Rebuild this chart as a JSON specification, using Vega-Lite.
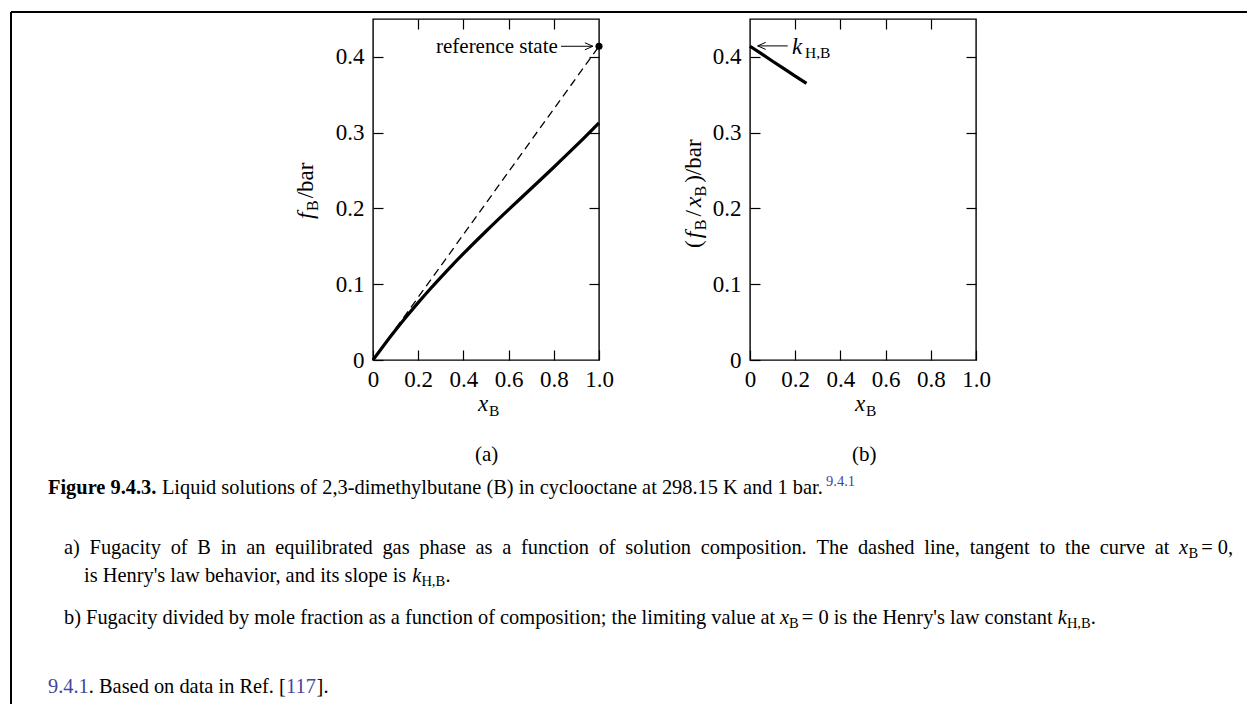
{
  "$schema": "https://vega.github.io/schema/vega-lite/v6.json",
  "background": "white",
  "padding": {"left": 9, "top": 10, "right": 0, "bottom": 0},
  "spacing": 151,
  "bounds": "flush",
  "config": {
    "view": {"stroke": "black", "strokeWidth": 1.4},
    "axis": {"labelFont": "Liberation Serif", "labelFontSize": 23, "labelColor": "black", "tickColor": "black", "tickWidth": 1.2, "domain": false, "grid": false}
  },
  "datasets": {
    "curveA": [
      {"xB": 0, "fB": 0}, {"xB": 0.05, "fB": 0.0202}, {"xB": 0.1, "fB": 0.0395}, {"xB": 0.15, "fB": 0.058},
      {"xB": 0.2, "fB": 0.0757}, {"xB": 0.25, "fB": 0.0927}, {"xB": 0.3, "fB": 0.1091}, {"xB": 0.35, "fB": 0.125},
      {"xB": 0.4, "fB": 0.1403}, {"xB": 0.5, "fB": 0.1699}, {"xB": 0.6, "fB": 0.1984}, {"xB": 0.7, "fB": 0.2263},
      {"xB": 0.8, "fB": 0.2544}, {"xB": 0.9, "fB": 0.2831}, {"xB": 1.0, "fB": 0.313}
    ],
    "tangent": [{"xB": 0, "fB": 0}, {"xB": 1, "fB": 0.414}],
    "refstate": [{"xB": 1, "fB": 0.414}],
    "arrowA": [{"xB": 0.832, "xB2": 0.973, "fB": 0.414}],
    "curveB": [
      {"xB": 0, "ratio": 0.414}, {"xB": 0.05, "ratio": 0.4042}, {"xB": 0.1, "ratio": 0.3943},
      {"xB": 0.15, "ratio": 0.3845}, {"xB": 0.2, "ratio": 0.3747}, {"xB": 0.25, "ratio": 0.365}
    ],
    "arrowB": [{"xB": 0.034, "xB2": 0.167, "ratio": 0.4145}],
    "frame": [
      {"px": 10, "py": 11, "px2": 1246, "py2": 11},
      {"px": 10, "py": 11, "px2": 10, "py2": 703}
    ],
    "annA": [
      {"px": 47, "py": 493, "text": "Figure 9.4.3.", "role": "capb"},
      {"px": 160.9, "py": 493, "text": "Liquid solutions of 2,3-dimethylbutane (B) in cyclooctane at 298.15 K and 1 bar.", "role": "cap"},
      {"px": 825, "py": 485, "text": "9.4.1", "role": "capsup"},
      {"px": 63, "py": 553, "text": "a)", "role": "cap"},
      {"px": 88.56, "py": 553, "text": "Fugacity", "role": "cap"},
      {"px": 169.67, "py": 553, "text": "of", "role": "cap"},
      {"px": 196.37, "py": 553, "text": "B", "role": "cap"},
      {"px": 219.69, "py": 553, "text": "in", "role": "cap"},
      {"px": 245.27, "py": 553, "text": "an", "role": "cap"},
      {"px": 274.24, "py": 553, "text": "equilibrated", "role": "cap"},
      {"px": 381.4, "py": 553, "text": "gas", "role": "cap"},
      {"px": 418.3, "py": 553, "text": "phase", "role": "cap"},
      {"px": 474.46, "py": 553, "text": "as", "role": "cap"},
      {"px": 501.16, "py": 553, "text": "a", "role": "cap"},
      {"px": 519.93, "py": 553, "text": "function", "role": "cap"},
      {"px": 597.63, "py": 553, "text": "of", "role": "cap"},
      {"px": 624.33, "py": 553, "text": "solution", "role": "cap"},
      {"px": 699.79, "py": 553, "text": "composition.", "role": "cap"},
      {"px": 815.48, "py": 553, "text": "The", "role": "cap"},
      {"px": 856.91, "py": 553, "text": "dashed", "role": "cap"},
      {"px": 923.27, "py": 553, "text": "line,", "role": "cap"},
      {"px": 968.68, "py": 553, "text": "tangent", "role": "cap"},
      {"px": 1038.45, "py": 553, "text": "to", "role": "cap"},
      {"px": 1064.03, "py": 553, "text": "the", "role": "cap"},
      {"px": 1098.67, "py": 553, "text": "curve", "role": "cap"},
      {"px": 1153.69, "py": 553, "text": "at", "role": "cap"},
      {"px": 1178.1, "py": 553, "text": "x", "role": "capi"},
      {"px": 1187.5, "py": 557, "text": "B", "role": "capsub"},
      {"px": 1200.2, "py": 553, "text": "= 0,", "role": "cap"},
      {"px": 83, "py": 581, "text": "is Henry's law behavior, and its slope is", "role": "cap"},
      {"px": 411.3, "py": 581, "text": "k", "role": "capi"},
      {"px": 420.4, "py": 585, "text": "H,B", "role": "capsub"},
      {"px": 444.5, "py": 581, "text": ".", "role": "cap"},
      {"px": 63, "py": 623, "text": "b) Fugacity divided by mole fraction as a function of composition; the limiting value at", "role": "cap"},
      {"px": 779, "py": 623, "text": "x", "role": "capi"},
      {"px": 788.1, "py": 627, "text": "B", "role": "capsub"},
      {"px": 800.8, "py": 623, "text": "= 0 is the Henry's law constant", "role": "cap"},
      {"px": 1056.8, "py": 623, "text": "k", "role": "capi"},
      {"px": 1065.9, "py": 627, "text": "H,B", "role": "capsub"},
      {"px": 1089.7, "py": 623, "text": ".", "role": "cap"},
      {"px": 47, "py": 692, "text": "9.4.1", "role": "caplink"},
      {"px": 87.8, "py": 692, "text": ". Based on data in Ref. [", "role": "cap"},
      {"px": 285, "py": 692, "text": "117", "role": "caplink"},
      {"px": 315.6, "py": 692, "text": "].", "role": "cap"},
      {"px": 435, "py": 52, "text": "reference state", "role": "fig"},
      {"px": 474, "py": 460, "text": "(a)", "role": "fig"},
      {"px": 477, "py": 410, "text": "x", "role": "figi"},
      {"px": 488, "py": 415, "text": "B", "role": "figsub"},
      {"px": 312, "py": 218, "text": "f", "role": "yti"},
      {"px": 316.5, "py": 210, "text": "B", "role": "ytsub"},
      {"px": 312, "py": 197.3, "text": "/bar", "role": "yt"}
    ],
    "annB": [
      {"px": 791, "py": 53, "text": "k", "role": "figi"},
      {"px": 804, "py": 57, "text": "H,B", "role": "figsub"},
      {"px": 851, "py": 460, "text": "(b)", "role": "fig"},
      {"px": 854, "py": 410, "text": "x", "role": "figi"},
      {"px": 865, "py": 415, "text": "B", "role": "figsub"},
      {"px": 700, "py": 247, "text": "(", "role": "yt"},
      {"px": 700, "py": 237.3, "text": "f", "role": "yti"},
      {"px": 704.5, "py": 229.3, "text": "B", "role": "ytsub"},
      {"px": 700, "py": 215.6, "text": "/", "role": "yt"},
      {"px": 700, "py": 206.2, "text": "x", "role": "yti"},
      {"px": 704.5, "py": 195.5, "text": "B", "role": "ytsub"},
      {"px": 700, "py": 181.8, "text": ")/bar", "role": "yt"}
    ]
  },
  "hconcat": [
    {
      "width": 226,
      "height": 341,
      "resolve": {"scale": {"x": "independent", "y": "independent"}},
      "layer": [
        {
          "data": {"name": "curveA"},
          "mark": {"type": "line", "color": "black", "strokeWidth": 3.2, "interpolate": "monotone"},
          "encoding": {
            "x": {"field": "xB", "type": "quantitative", "scale": {"domain": [0, 1], "nice": false, "zero": false},
              "axis": {"orient": "bottom", "values": [0, 0.2, 0.4, 0.6, 0.8, 1], "labelExpr": "datum.value == 0 ? '0' : format(datum.value, '.1f')", "tickSize": -10, "labelPadding": 18, "title": null, "labelFlush": false, "labelOverlap": false}},
            "y": {"field": "fB", "type": "quantitative", "scale": {"domain": [0, 0.45], "nice": false, "zero": false},
              "axis": {"orient": "left", "values": [0, 0.1, 0.2, 0.3, 0.4], "labelExpr": "datum.value == 0 ? '0' : format(datum.value, '.1f')", "tickSize": -10, "labelPadding": 19, "title": null, "labelFlush": false, "labelOverlap": false}}
          }
        },
        {
          "data": {"name": "tangent"},
          "mark": {"type": "line", "color": "black", "strokeWidth": 1.3, "strokeDash": [8, 5]},
          "encoding": {
            "x": {"field": "xB", "type": "quantitative", "scale": {"domain": [0, 1], "nice": false, "zero": false},
              "axis": {"orient": "top", "values": [0.2, 0.4, 0.6, 0.8], "labels": false, "tickSize": -10, "title": null}},
            "y": {"field": "fB", "type": "quantitative", "scale": {"domain": [0, 0.45], "nice": false, "zero": false},
              "axis": {"orient": "right", "values": [0.1, 0.2, 0.3, 0.4], "labels": false, "tickSize": -10, "title": null}}
          }
        },
        {
          "data": {"name": "refstate"},
          "mark": {"type": "point", "filled": true, "color": "black", "size": 50, "opacity": 1},
          "encoding": {
            "x": {"field": "xB", "type": "quantitative", "scale": {"domain": [0, 1], "nice": false, "zero": false}, "axis": null},
            "y": {"field": "fB", "type": "quantitative", "scale": {"domain": [0, 0.45], "nice": false, "zero": false}, "axis": null}
          }
        },
        {
          "data": {"name": "arrowA"},
          "mark": {"type": "rule", "color": "black", "strokeWidth": 1},
          "encoding": {
            "x": {"field": "xB", "type": "quantitative", "scale": {"domain": [0, 1], "nice": false, "zero": false}, "axis": null},
            "x2": {"field": "xB2"},
            "y": {"field": "fB", "type": "quantitative", "scale": {"domain": [0, 0.45], "nice": false, "zero": false}, "axis": null}
          }
        },
        {
          "data": {"name": "arrowA"},
          "mark": {"type": "point", "shape": "M -1.6 -0.7 L 0 0 L -1.6 0.7", "filled": false, "stroke": "black", "strokeWidth": 1, "size": 100, "opacity": 1},
          "encoding": {
            "x": {"field": "xB2", "type": "quantitative", "scale": {"domain": [0, 1], "nice": false, "zero": false}, "axis": null},
            "y": {"field": "fB", "type": "quantitative", "scale": {"domain": [0, 0.45], "nice": false, "zero": false}, "axis": null}
          }
        },
        {
          "data": {"name": "frame"},
          "mark": {"type": "rule", "color": "black", "strokeWidth": 2},
          "encoding": {
            "x": {"field": "px", "type": "quantitative", "scale": {"domain": [372, 598], "nice": false, "zero": false}, "axis": null},
            "x2": {"field": "px2"},
            "y": {"field": "py", "type": "quantitative", "scale": {"domain": [18, 359], "reverse": true, "nice": false, "zero": false}, "axis": null},
            "y2": {"field": "py2"}
          }
        },
        {
          "data": {"name": "annA"},
          "transform": [{"filter": "datum.role == 'cap'"}],
          "mark": {"type": "text", "align": "left", "baseline": "alphabetic", "font": "Liberation Serif", "fontSize": 20.4, "color": "black"},
          "encoding": {
            "x": {"field": "px", "type": "quantitative", "scale": {"domain": [372, 598], "nice": false, "zero": false}, "axis": null},
            "y": {"field": "py", "type": "quantitative", "scale": {"domain": [18, 359], "reverse": true, "nice": false, "zero": false}, "axis": null},
            "text": {"field": "text"}
          }
        },
        {
          "data": {"name": "annA"},
          "transform": [{"filter": "datum.role == 'capb'"}],
          "mark": {"type": "text", "align": "left", "baseline": "alphabetic", "font": "Liberation Serif", "fontSize": 20.4, "fontWeight": "bold", "color": "black"},
          "encoding": {
            "x": {"field": "px", "type": "quantitative", "scale": {"domain": [372, 598], "nice": false, "zero": false}, "axis": null},
            "y": {"field": "py", "type": "quantitative", "scale": {"domain": [18, 359], "reverse": true, "nice": false, "zero": false}, "axis": null},
            "text": {"field": "text"}
          }
        },
        {
          "data": {"name": "annA"},
          "transform": [{"filter": "datum.role == 'capi'"}],
          "mark": {"type": "text", "align": "left", "baseline": "alphabetic", "font": "Liberation Serif", "fontSize": 20.4, "fontStyle": "italic", "color": "black"},
          "encoding": {
            "x": {"field": "px", "type": "quantitative", "scale": {"domain": [372, 598], "nice": false, "zero": false}, "axis": null},
            "y": {"field": "py", "type": "quantitative", "scale": {"domain": [18, 359], "reverse": true, "nice": false, "zero": false}, "axis": null},
            "text": {"field": "text"}
          }
        },
        {
          "data": {"name": "annA"},
          "transform": [{"filter": "datum.role == 'capsub'"}],
          "mark": {"type": "text", "align": "left", "baseline": "alphabetic", "font": "Liberation Serif", "fontSize": 14.5, "color": "black"},
          "encoding": {
            "x": {"field": "px", "type": "quantitative", "scale": {"domain": [372, 598], "nice": false, "zero": false}, "axis": null},
            "y": {"field": "py", "type": "quantitative", "scale": {"domain": [18, 359], "reverse": true, "nice": false, "zero": false}, "axis": null},
            "text": {"field": "text"}
          }
        },
        {
          "data": {"name": "annA"},
          "transform": [{"filter": "datum.role == 'caplink'"}],
          "mark": {"type": "text", "align": "left", "baseline": "alphabetic", "font": "Liberation Serif", "fontSize": 20.4, "color": "#45459a"},
          "encoding": {
            "x": {"field": "px", "type": "quantitative", "scale": {"domain": [372, 598], "nice": false, "zero": false}, "axis": null},
            "y": {"field": "py", "type": "quantitative", "scale": {"domain": [18, 359], "reverse": true, "nice": false, "zero": false}, "axis": null},
            "text": {"field": "text"}
          }
        },
        {
          "data": {"name": "annA"},
          "transform": [{"filter": "datum.role == 'capsup'"}],
          "mark": {"type": "text", "align": "left", "baseline": "alphabetic", "font": "Liberation Serif", "fontSize": 14.5, "color": "#45459a"},
          "encoding": {
            "x": {"field": "px", "type": "quantitative", "scale": {"domain": [372, 598], "nice": false, "zero": false}, "axis": null},
            "y": {"field": "py", "type": "quantitative", "scale": {"domain": [18, 359], "reverse": true, "nice": false, "zero": false}, "axis": null},
            "text": {"field": "text"}
          }
        },
        {
          "data": {"name": "annA"},
          "transform": [{"filter": "datum.role == 'fig'"}],
          "mark": {"type": "text", "align": "left", "baseline": "alphabetic", "font": "Liberation Serif", "fontSize": 21, "color": "black"},
          "encoding": {
            "x": {"field": "px", "type": "quantitative", "scale": {"domain": [372, 598], "nice": false, "zero": false}, "axis": null},
            "y": {"field": "py", "type": "quantitative", "scale": {"domain": [18, 359], "reverse": true, "nice": false, "zero": false}, "axis": null},
            "text": {"field": "text"}
          }
        },
        {
          "data": {"name": "annA"},
          "transform": [{"filter": "datum.role == 'figi'"}],
          "mark": {"type": "text", "align": "left", "baseline": "alphabetic", "font": "Liberation Serif", "fontSize": 23, "fontStyle": "italic", "color": "black"},
          "encoding": {
            "x": {"field": "px", "type": "quantitative", "scale": {"domain": [372, 598], "nice": false, "zero": false}, "axis": null},
            "y": {"field": "py", "type": "quantitative", "scale": {"domain": [18, 359], "reverse": true, "nice": false, "zero": false}, "axis": null},
            "text": {"field": "text"}
          }
        },
        {
          "data": {"name": "annA"},
          "transform": [{"filter": "datum.role == 'figsub'"}],
          "mark": {"type": "text", "align": "left", "baseline": "alphabetic", "font": "Liberation Serif", "fontSize": 15.5, "color": "black"},
          "encoding": {
            "x": {"field": "px", "type": "quantitative", "scale": {"domain": [372, 598], "nice": false, "zero": false}, "axis": null},
            "y": {"field": "py", "type": "quantitative", "scale": {"domain": [18, 359], "reverse": true, "nice": false, "zero": false}, "axis": null},
            "text": {"field": "text"}
          }
        },
        {
          "data": {"name": "annA"},
          "transform": [{"filter": "datum.role == 'yt'"}],
          "mark": {"type": "text", "align": "left", "baseline": "alphabetic", "angle": 270, "font": "Liberation Serif", "fontSize": 23, "color": "black"},
          "encoding": {
            "x": {"field": "px", "type": "quantitative", "scale": {"domain": [372, 598], "nice": false, "zero": false}, "axis": null},
            "y": {"field": "py", "type": "quantitative", "scale": {"domain": [18, 359], "reverse": true, "nice": false, "zero": false}, "axis": null},
            "text": {"field": "text"}
          }
        },
        {
          "data": {"name": "annA"},
          "transform": [{"filter": "datum.role == 'yti'"}],
          "mark": {"type": "text", "align": "left", "baseline": "alphabetic", "angle": 270, "font": "Liberation Serif", "fontSize": 24, "fontStyle": "italic", "color": "black"},
          "encoding": {
            "x": {"field": "px", "type": "quantitative", "scale": {"domain": [372, 598], "nice": false, "zero": false}, "axis": null},
            "y": {"field": "py", "type": "quantitative", "scale": {"domain": [18, 359], "reverse": true, "nice": false, "zero": false}, "axis": null},
            "text": {"field": "text"}
          }
        },
        {
          "data": {"name": "annA"},
          "transform": [{"filter": "datum.role == 'ytsub'"}],
          "mark": {"type": "text", "align": "left", "baseline": "alphabetic", "angle": 270, "font": "Liberation Serif", "fontSize": 16, "color": "black"},
          "encoding": {
            "x": {"field": "px", "type": "quantitative", "scale": {"domain": [372, 598], "nice": false, "zero": false}, "axis": null},
            "y": {"field": "py", "type": "quantitative", "scale": {"domain": [18, 359], "reverse": true, "nice": false, "zero": false}, "axis": null},
            "text": {"field": "text"}
          }
        }
      ]
    },
    {
      "width": 226,
      "height": 341,
      "resolve": {"scale": {"x": "independent", "y": "independent"}},
      "layer": [
        {
          "data": {"name": "curveB"},
          "mark": {"type": "line", "color": "black", "strokeWidth": 3.2},
          "encoding": {
            "x": {"field": "xB", "type": "quantitative", "scale": {"domain": [0, 1], "nice": false, "zero": false},
              "axis": {"orient": "bottom", "values": [0, 0.2, 0.4, 0.6, 0.8, 1], "labelExpr": "datum.value == 0 ? '0' : format(datum.value, '.1f')", "tickSize": -10, "labelPadding": 18, "title": null, "labelFlush": false, "labelOverlap": false}},
            "y": {"field": "ratio", "type": "quantitative", "scale": {"domain": [0, 0.45], "nice": false, "zero": false},
              "axis": {"orient": "left", "values": [0, 0.1, 0.2, 0.3, 0.4], "labelExpr": "datum.value == 0 ? '0' : format(datum.value, '.1f')", "tickSize": -10, "labelPadding": 19, "title": null, "labelFlush": false, "labelOverlap": false}}
          }
        },
        {
          "data": {"name": "curveB"},
          "mark": {"type": "line", "color": "black", "strokeOpacity": 0},
          "encoding": {
            "x": {"field": "xB", "type": "quantitative", "scale": {"domain": [0, 1], "nice": false, "zero": false},
              "axis": {"orient": "top", "values": [0.2, 0.4, 0.6, 0.8], "labels": false, "tickSize": -10, "title": null}},
            "y": {"field": "ratio", "type": "quantitative", "scale": {"domain": [0, 0.45], "nice": false, "zero": false},
              "axis": {"orient": "right", "values": [0.1, 0.2, 0.3, 0.4], "labels": false, "tickSize": -10, "title": null}}
          }
        },
        {
          "data": {"name": "arrowB"},
          "mark": {"type": "rule", "color": "black", "strokeWidth": 1},
          "encoding": {
            "x": {"field": "xB", "type": "quantitative", "scale": {"domain": [0, 1], "nice": false, "zero": false}, "axis": null},
            "x2": {"field": "xB2"},
            "y": {"field": "ratio", "type": "quantitative", "scale": {"domain": [0, 0.45], "nice": false, "zero": false}, "axis": null}
          }
        },
        {
          "data": {"name": "arrowB"},
          "mark": {"type": "point", "shape": "M 1.6 -0.7 L 0 0 L 1.6 0.7", "filled": false, "stroke": "black", "strokeWidth": 1, "size": 100, "opacity": 1},
          "encoding": {
            "x": {"field": "xB", "type": "quantitative", "scale": {"domain": [0, 1], "nice": false, "zero": false}, "axis": null},
            "y": {"field": "ratio", "type": "quantitative", "scale": {"domain": [0, 0.45], "nice": false, "zero": false}, "axis": null}
          }
        },
        {
          "data": {"name": "annB"},
          "transform": [{"filter": "datum.role == 'fig'"}],
          "mark": {"type": "text", "align": "left", "baseline": "alphabetic", "font": "Liberation Serif", "fontSize": 21, "color": "black"},
          "encoding": {
            "x": {"field": "px", "type": "quantitative", "scale": {"domain": [749, 975], "nice": false, "zero": false}, "axis": null},
            "y": {"field": "py", "type": "quantitative", "scale": {"domain": [18, 359], "reverse": true, "nice": false, "zero": false}, "axis": null},
            "text": {"field": "text"}
          }
        },
        {
          "data": {"name": "annB"},
          "transform": [{"filter": "datum.role == 'figi'"}],
          "mark": {"type": "text", "align": "left", "baseline": "alphabetic", "font": "Liberation Serif", "fontSize": 23, "fontStyle": "italic", "color": "black"},
          "encoding": {
            "x": {"field": "px", "type": "quantitative", "scale": {"domain": [749, 975], "nice": false, "zero": false}, "axis": null},
            "y": {"field": "py", "type": "quantitative", "scale": {"domain": [18, 359], "reverse": true, "nice": false, "zero": false}, "axis": null},
            "text": {"field": "text"}
          }
        },
        {
          "data": {"name": "annB"},
          "transform": [{"filter": "datum.role == 'figsub'"}],
          "mark": {"type": "text", "align": "left", "baseline": "alphabetic", "font": "Liberation Serif", "fontSize": 15.5, "color": "black"},
          "encoding": {
            "x": {"field": "px", "type": "quantitative", "scale": {"domain": [749, 975], "nice": false, "zero": false}, "axis": null},
            "y": {"field": "py", "type": "quantitative", "scale": {"domain": [18, 359], "reverse": true, "nice": false, "zero": false}, "axis": null},
            "text": {"field": "text"}
          }
        },
        {
          "data": {"name": "annB"},
          "transform": [{"filter": "datum.role == 'yt'"}],
          "mark": {"type": "text", "align": "left", "baseline": "alphabetic", "angle": 270, "font": "Liberation Serif", "fontSize": 23, "color": "black"},
          "encoding": {
            "x": {"field": "px", "type": "quantitative", "scale": {"domain": [749, 975], "nice": false, "zero": false}, "axis": null},
            "y": {"field": "py", "type": "quantitative", "scale": {"domain": [18, 359], "reverse": true, "nice": false, "zero": false}, "axis": null},
            "text": {"field": "text"}
          }
        },
        {
          "data": {"name": "annB"},
          "transform": [{"filter": "datum.role == 'yti'"}],
          "mark": {"type": "text", "align": "left", "baseline": "alphabetic", "angle": 270, "font": "Liberation Serif", "fontSize": 24, "fontStyle": "italic", "color": "black"},
          "encoding": {
            "x": {"field": "px", "type": "quantitative", "scale": {"domain": [749, 975], "nice": false, "zero": false}, "axis": null},
            "y": {"field": "py", "type": "quantitative", "scale": {"domain": [18, 359], "reverse": true, "nice": false, "zero": false}, "axis": null},
            "text": {"field": "text"}
          }
        },
        {
          "data": {"name": "annB"},
          "transform": [{"filter": "datum.role == 'ytsub'"}],
          "mark": {"type": "text", "align": "left", "baseline": "alphabetic", "angle": 270, "font": "Liberation Serif", "fontSize": 16, "color": "black"},
          "encoding": {
            "x": {"field": "px", "type": "quantitative", "scale": {"domain": [749, 975], "nice": false, "zero": false}, "axis": null},
            "y": {"field": "py", "type": "quantitative", "scale": {"domain": [18, 359], "reverse": true, "nice": false, "zero": false}, "axis": null},
            "text": {"field": "text"}
          }
        }
      ]
    }
  ]
}
